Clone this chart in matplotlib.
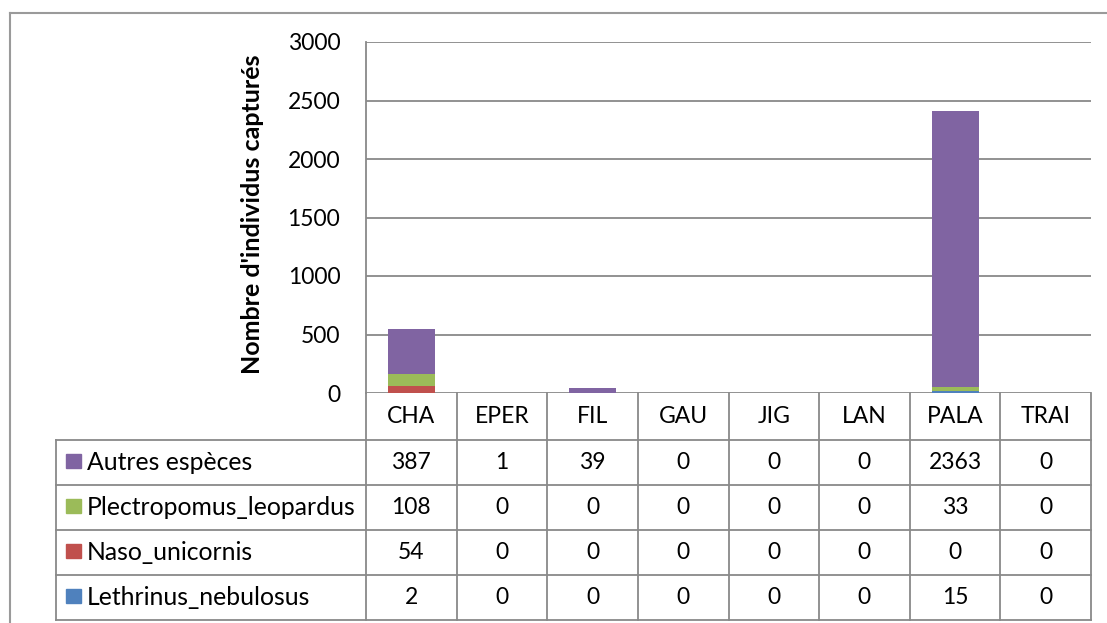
import matplotlib
matplotlib.use("Agg")
import matplotlib.pyplot as plt
from matplotlib.patches import Rectangle

plt.rcParams['font.family'] = ['Lato', 'DejaVu Sans']

engins = ["CHA", "EPER", "FIL", "GAU", "JIG", "LAN", "PALA", "TRAI"]
especes = ["Autres espèces", "Plectropomus_leopardus", "Naso_unicornis", "Lethrinus_nebulosus"]
autres = [387, 1, 39, 0, 0, 0, 2363, 0]
plectropomus = [108, 0, 0, 0, 0, 0, 33, 0]
naso = [54, 0, 0, 0, 0, 0, 0, 0]
lethrinus = [2, 0, 0, 0, 0, 0, 15, 0]
couleurs = ["#8064A2", "#9BBB59", "#C0504D", "#4F81BD"]
yticks = [0, 500, 1000, 1500, 2000, 2500, 3000]

W, H = 1107, 623
grille = "#898989"
fs = 16.5
fig = plt.figure(figsize=(W / 100, H / 100), dpi=100)


def px(x0, y0, x1, y1):
    # pixel box (top-left origin) -> figure fraction
    return [x0 / W, 1 - y1 / H, (x1 - x0) / W, (y1 - y0) / H]


# cadre extérieur du graphique
fig.add_artist(plt.Line2D([10 / W, 10 / W], [0, 1 - 13 / H], color="#9a9a9a", lw=1.5))
fig.add_artist(plt.Line2D([10 / W, 1], [1 - 13 / H, 1 - 13 / H], color="#9a9a9a", lw=1.5))

ax = fig.add_axes(px(366, 42, 1091, 393))
x = range(len(engins))
series = [lethrinus, naso, plectropomus, autres]
cols = couleurs[::-1]
bas = [0] * len(engins)
for vals, c in zip(series, cols):
    ax.bar(x, vals, bottom=bas, width=0.52, color=c, zorder=3)
    bas = [b + v for b, v in zip(bas, vals)]

ax.set_xlim(-0.5, len(engins) - 0.5)
ax.set_ylim(0, 3000)
ax.set_yticks(yticks)
ax.set_yticklabels([str(t) for t in yticks], fontsize=fs)
ax.set_xticks([])
ax.tick_params(axis='y', length=0, pad=18.5)
ax.grid(axis='y', color=grille, lw=1.3, zorder=0)
for s in ["top", "right", "bottom"]:
    ax.spines[s].set_visible(False)
ax.spines["left"].set_color(grille)
ax.spines["left"].set_linewidth(1.3)
ax.set_ylabel("Nombre d'individus capturés", fontsize=18, fontweight="bold")
ax.yaxis.set_label_coords(-0.14, 0.51)

# tableau de données sous le graphique
larg_px = (1091 - 366) / len(engins)
gauche = -0.5 - (366 - 56) / larg_px
tab = fig.add_axes(px(56, 393, 1091, 620))
tab.set_xlim(gauche, len(engins) - 0.5)
tab.set_ylim(620, 393)
tab.axis("off")
lignes = [393, 440, 485, 530, 575, 620]

for yb in lignes[1:]:
    tab.plot([gauche, len(engins) - 0.5], [yb, yb], color=grille, lw=1.3, clip_on=False)
for i in range(len(engins) + 1):
    tab.plot([i - 0.5, i - 0.5], [393, 620], color=grille, lw=1.3, clip_on=False)
tab.plot([gauche, gauche], [440, 620], color=grille, lw=1.3, clip_on=False)

for i, e in enumerate(engins):
    tab.text(i, (lignes[0] + lignes[1]) / 2, e, ha="center", va="center", fontsize=fs)

donnees = [autres, plectropomus, naso, lethrinus]
for r, (nom, vals, c) in enumerate(zip(especes, donnees, couleurs)):
    yc = (lignes[r + 1] + lignes[r + 2]) / 2
    tab.add_patch(Rectangle((gauche + 10 / larg_px, yc - 8), 15 / larg_px, 14,
                            color=c, clip_on=False))
    tab.text(gauche + 31 / larg_px, yc, nom, ha="left", va="center", fontsize=17.8)
    for i, v in enumerate(vals):
        tab.text(i, yc, str(v), ha="center", va="center", fontsize=fs)

fig.savefig("out.png", dpi=100, facecolor="white")
